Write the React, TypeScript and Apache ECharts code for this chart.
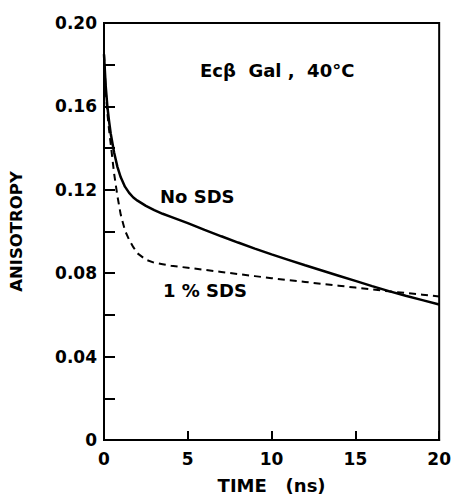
import React, { useEffect, useRef } from "react";
import * as echarts from "echarts";

const timeNs = [0, 0.1, 0.2, 0.3, 0.4, 0.6, 0.8, 1.0, 1.25, 1.5, 1.75, 2.0, 2.5, 3, 3.5, 4, 5, 6, 7, 8, 9, 10, 11, 12, 13, 14, 15, 16, 17, 18, 19, 20];
const noSDS = [0.185, 0.17, 0.16, 0.153, 0.147, 0.138, 0.131, 0.126, 0.1215, 0.1185, 0.1163, 0.1148, 0.1123, 0.1103, 0.1085, 0.107, 0.104, 0.1008, 0.0977, 0.0947, 0.0918, 0.089, 0.0864, 0.0838, 0.0813, 0.0788, 0.0763, 0.0738, 0.0714, 0.0692, 0.0671, 0.065];
const sds1 = [0.185, 0.168, 0.157, 0.149, 0.142, 0.128, 0.117, 0.108, 0.1005, 0.096, 0.0925, 0.0895, 0.0865, 0.085, 0.0843, 0.0836, 0.0826, 0.0816, 0.0806, 0.0796, 0.0786, 0.0776, 0.0767, 0.0758, 0.0749, 0.074, 0.0731, 0.0722, 0.0713, 0.0705, 0.0697, 0.0688];
const yTickLabels = ["0", "0.04", "0.08", "0.12", "0.16", "0.20"];
const xTickLabels = ["0", "5", "10", "15", "20"];

const FONT = "DejaVu Sans";

export default function App() {
  const ref = useRef<HTMLDivElement>(null);
  useEffect(() => {
    if (!ref.current) return;
    const chart = echarts.init(ref.current, null, { renderer: "svg" });
    const pair = (ys: number[]) => timeNs.map((t, i) => [t, ys[i]]);
    const txt = { fontFamily: FONT, fontSize: 18, fontWeight: "bold" as const, color: "#000" };
    chart.setOption({
      animation: false,
      backgroundColor: "#fff",
      grid: {
        left: 104,
        right: 14,
        top: 23,
        bottom: 57,
        show: true,
        borderColor: "#000",
        borderWidth: 2,
        backgroundColor: "transparent",
      },
      xAxis: {
        type: "value",
        min: 0,
        max: 20,
        interval: 5,
        name: "TIME   (ns)",
        nameLocation: "middle",
        nameGap: 36,
        nameTextStyle: txt,
        axisLine: { show: true, lineStyle: { color: "#000", width: 2 } },
        axisTick: { show: true, inside: true, length: 9, lineStyle: { color: "#000", width: 2 } },
        splitLine: { show: false },
        axisLabel: {
          margin: 10,
          ...txt,
          fontSize: 17,
          formatter: (v: number) => xTickLabels[Math.round(v / 5)] ?? "",
        },
      },
      yAxis: {
        type: "value",
        min: 0,
        max: 0.2,
        interval: 0.02,
        name: "ANISOTROPY",
        nameLocation: "middle",
        nameGap: 79,
        nameTextStyle: { ...txt, fontSize: 16.5 },
        axisLine: { show: true, lineStyle: { color: "#000", width: 2 } },
        axisTick: { show: true, inside: true, length: 11, lineStyle: { color: "#000", width: 2 } },
        splitLine: { show: false },
        axisLabel: {
          margin: 7,
          ...txt,
          fontSize: 17,
          formatter: (v: number) => {
            const k = Math.round(v / 0.02);
            return k % 2 === 0 ? yTickLabels[k / 2] ?? "" : "";
          },
        },
      },
      graphic: [
        { type: "text", left: 200, top: 61, style: { text: "Ecβ  Gal ,  40°C", font: `bold 18px "${FONT}"`, fill: "#000" } },
        { type: "text", left: 160, top: 187, style: { text: "No SDS", font: `bold 18px "${FONT}"`, fill: "#000" } },
        { type: "text", left: 163, top: 281, style: { text: "1 % SDS", font: `bold 18px "${FONT}"`, fill: "#000" } },
      ],
      series: [
        {
          name: "No SDS",
          type: "line",
          data: pair(noSDS),
          showSymbol: false,
          smooth: false,
          lineStyle: { color: "#000", width: 2.5, type: "solid" },
        },
        {
          name: "1 % SDS",
          type: "line",
          data: pair(sds1),
          showSymbol: false,
          smooth: false,
          lineStyle: { color: "#000", width: 2, type: [7, 5] },
        },
      ],
    });
    return () => chart.dispose();
  }, []);
  return (
    <div
      ref={ref}
      style={{ position: "absolute", left: 0, top: 0, width: 454, height: 499 }}
    />
  );
}
